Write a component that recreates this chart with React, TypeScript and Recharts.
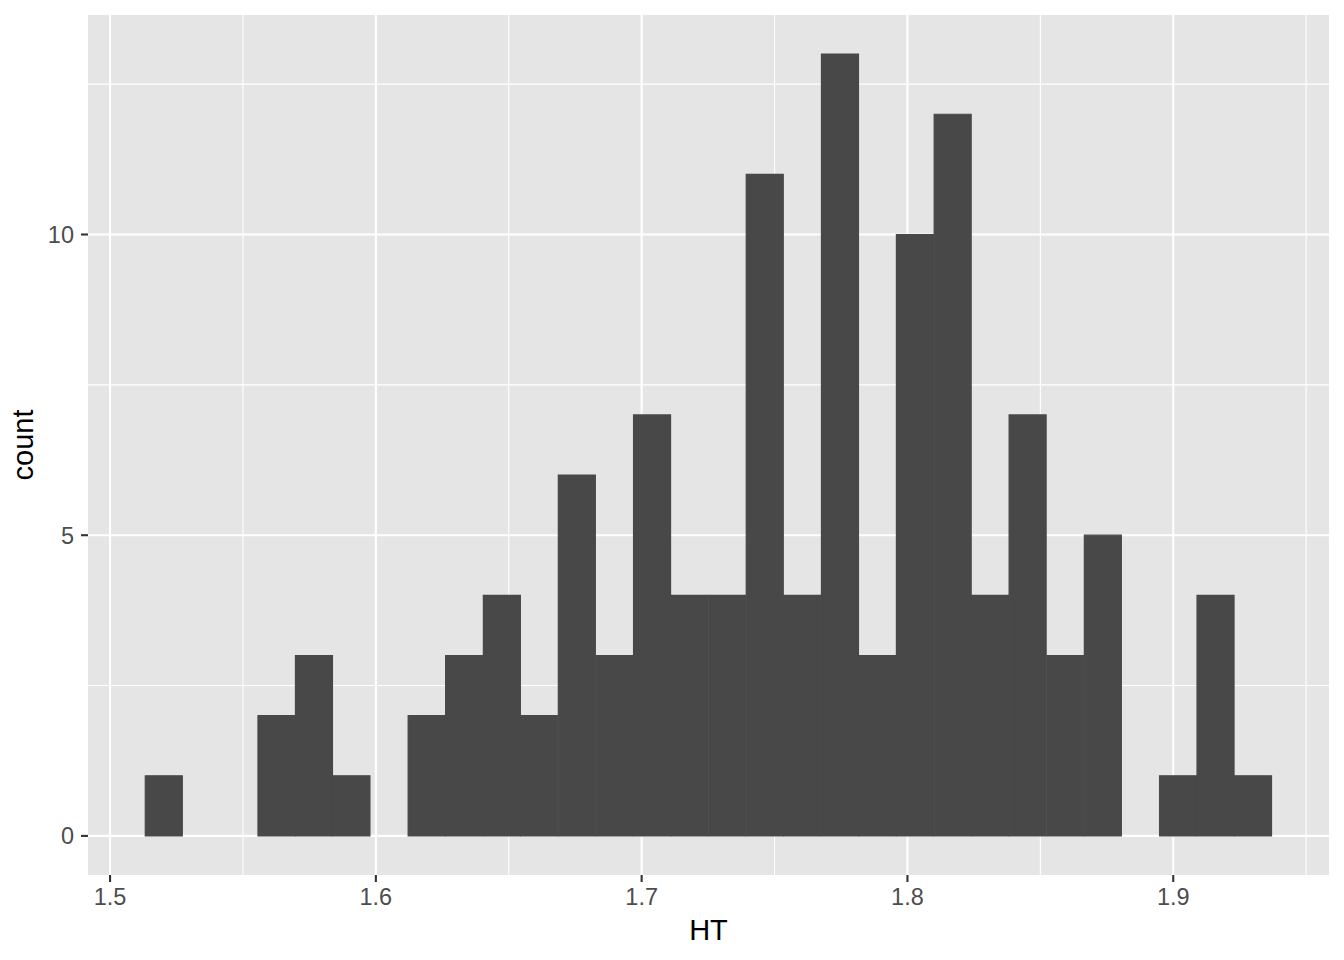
import { BarChart, Bar, XAxis, YAxis, CartesianGrid, Label } from 'recharts';

// histogram of HT, 30 bins (bin centres)
const binCenters = [
  1.5203, 1.5344, 1.5485, 1.5627, 1.5768, 1.5909, 1.6051, 1.6192, 1.6333, 1.6475,
  1.6616, 1.6757, 1.6899, 1.704, 1.7181, 1.7323, 1.7464, 1.7605, 1.7747, 1.7888,
  1.8029, 1.8171, 1.8312, 1.8453, 1.8595, 1.8736, 1.8877, 1.9019, 1.916, 1.9301,
];
const counts = [
  1, 0, 0, 2, 3, 1, 0, 2, 3, 4,
  2, 6, 3, 7, 4, 4, 11, 4, 13, 3,
  10, 12, 4, 7, 3, 5, 0, 1, 4, 1,
];
const xTicks = [1.5, 1.6, 1.7, 1.8, 1.9];
const xMinor = [1.55, 1.65, 1.75, 1.85, 1.95];
const yTicks = [0, 5, 10];
const yMinor = [2.5, 7.5, 12.5];

const data = binCenters.map((x, i) => ({ HT: x, count: counts[i] }));

const font = '"Liberation Sans", Arial, Helvetica, sans-serif';
const tickStyle = { fill: '#4D4D4D', fontSize: 23.5, fontFamily: font };

const scaled = (axis: any, vals: number[]) => {
  const s = axis && axis.scale;
  if (!s) return [];
  return vals.map((v) => (typeof s === 'function' ? s(v) : s.map(v)));
};

export default function App() {
  return (
    <div>
      <style>{'body{margin:0;background:#fff}'}</style>
      <BarChart
        width={1344}
        height={960}
        data={data}
        margin={{ top: 15, right: 15, left: 0, bottom: 0 }}
        barCategoryGap="0%"
        barGap={0}
      >
        <CartesianGrid
          fill="#E5E5E5"
          stroke="#FFFFFF"
          strokeWidth={1.1}
          verticalCoordinatesGenerator={({ xAxis }: any) => scaled(xAxis, xMinor)}
          horizontalCoordinatesGenerator={({ yAxis }: any) => scaled(yAxis, yMinor)}
        />
        <CartesianGrid
          stroke="#FFFFFF"
          strokeWidth={2.1}
          verticalCoordinatesGenerator={({ xAxis }: any) => scaled(xAxis, xTicks)}
          horizontalCoordinatesGenerator={({ yAxis }: any) => scaled(yAxis, yTicks)}
        />
        <XAxis
          dataKey="HT"
          type="number"
          domain={[1.4917, 1.9586]}
          allowDataOverflow
          ticks={xTicks}
          interval={0}
          height={85}
          axisLine={false}
          tickLine={{ stroke: '#333333', strokeWidth: 2.1 }}
          tickSize={7}
          tickMargin={6}
          tick={tickStyle}
        >
          <Label
            value="HT"
            position="insideBottom"
            offset={20}
            style={{ fill: '#000000', fontSize: 29, fontFamily: font }}
          />
        </XAxis>
        <YAxis
          type="number"
          domain={[-0.65, 13.65]}
          allowDataOverflow
          ticks={yTicks}
          interval={0}
          width={88}
          axisLine={false}
          tickLine={{ stroke: '#333333', strokeWidth: 2.1 }}
          tickSize={7}
          tickMargin={7}
          tick={tickStyle}
        >
          <Label
            value="count"
            position="insideLeft"
            angle={-90}
            offset={23}
            textAnchor="middle"
            style={{ fill: '#000000', fontSize: 29, fontFamily: font, textAnchor: 'middle' }}
          />
        </YAxis>
        <Bar dataKey="count" fill="#484848" stroke="#484848" strokeWidth={1.2} isAnimationActive={false} />
      </BarChart>
    </div>
  );
}
